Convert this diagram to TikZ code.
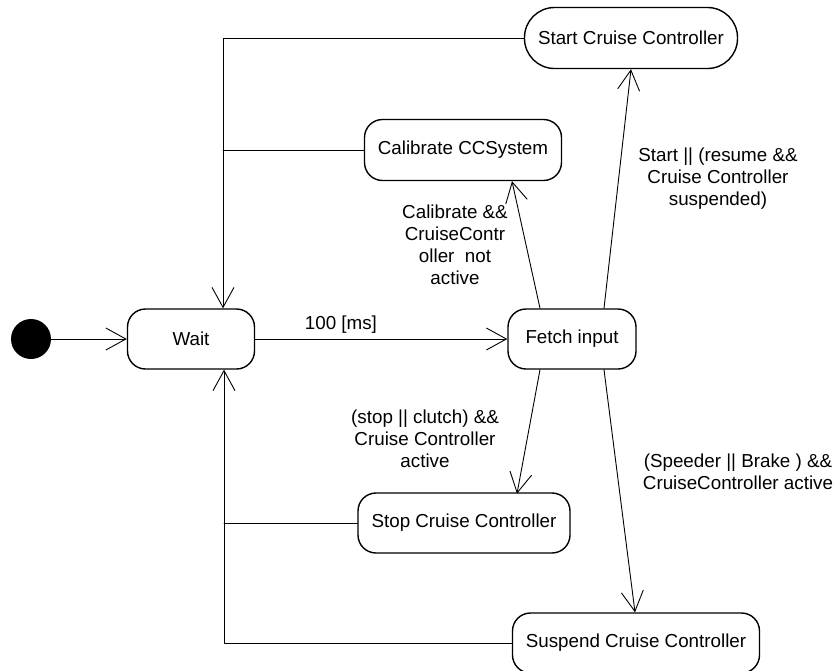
\documentclass[tikz,border=0pt]{standalone}
\usepackage{fontspec}
\setmainfont{Liberation Sans}
\usetikzlibrary{arrows.meta,calc}

\tikzset{
  state/.style={draw, line width=1.4pt, rounded corners=18pt, inner sep=0pt,
    minimum height=60pt, font=\fontsize{18.8}{22}\selectfont},
  guard/.style={align=center, inner sep=0pt, font=\fontsize{18.8}{22}\selectfont},
  trans/.style={line width=0.9pt, -{Straight Barb[length=20pt,width=22pt,line width=0.9pt]}},
  plain/.style={line width=0.9pt}
}

\begin{document}
\begin{tikzpicture}[x=1pt, y=-1pt, line cap=round, line join=round]
  \useasboundingbox (0,0) rectangle (836,670);
  % initial pseudo state
  \fill (31,339) circle (20pt) coordinate (init);
  % states
  \node[state, minimum width=127pt] (wait) at (191,339) {Wait};
  \node[state, minimum width=128pt] (fetch) at (572,339) {Fetch input};
  \node[state, minimum width=213pt, minimum height=61pt, rounded corners=30pt] (start) at (631,38) {Start Cruise Controller};
  \node[state, minimum width=197pt, minimum height=61pt] (calib) at (463,150) {Calibrate CCSystem};
  \node[state, minimum width=212pt] (stop) at (464,523) {Stop Cruise Controller};
  \node[state, minimum width=247pt] (suspend) at (636,643) {Suspend Cruise Controller};
  % return buses on the left
  \coordinate (bustop) at (223,38);
  \coordinate (busbot) at (224,643);
  % transitions
  \draw[trans] ($(init)+(20,0)$) -- (wait.west);
  \draw[trans] (wait.east) -- (fetch.west) node[pos=0.34, above=5pt, guard] (lblms) {100 [ms]};
  \draw[trans] ($(fetch.north)+(-32,0)$) -- ($(calib.south)+(49,0)$);
  \draw[trans] ($(fetch.north)+(32,0)$) -- (start.south);
  \draw[trans] ($(fetch.south)+(-32,0)$) -- ($(stop.south)+(53,-60)$);
  \draw[trans] ($(fetch.south)+(32,0)$) -- ($(suspend.north)+(-1,0)$);
  % back to Wait
  \draw[trans] (start.west) -- (bustop) -- ($(wait.north)+(32,0)$);
  \draw[plain] (calib.west) -- (calib.west -| bustop);
  \draw[trans] (suspend.west) -- (busbot) -- (busbot |- wait.south);
  \draw[plain] (stop.west) -- (stop.west -| busbot);
  % guards
  \node[guard] (lblcal) at (455,245) {Calibrate \&\&\\CruiseContr\\oller\ \ not\\active};
  \node[guard] (lblstart) at (718,179) {Start || (resume \&\&\\Cruise Controller\\suspended)};
  \node[guard] (lblstop) at (425,439) {(stop || clutch) \&\&\\Cruise Controller\\active};
  \node[guard] (lblsusp) at (738,472) {(Speeder || Brake ) \&\&\\CruiseController active};
\end{tikzpicture}
\end{document}
